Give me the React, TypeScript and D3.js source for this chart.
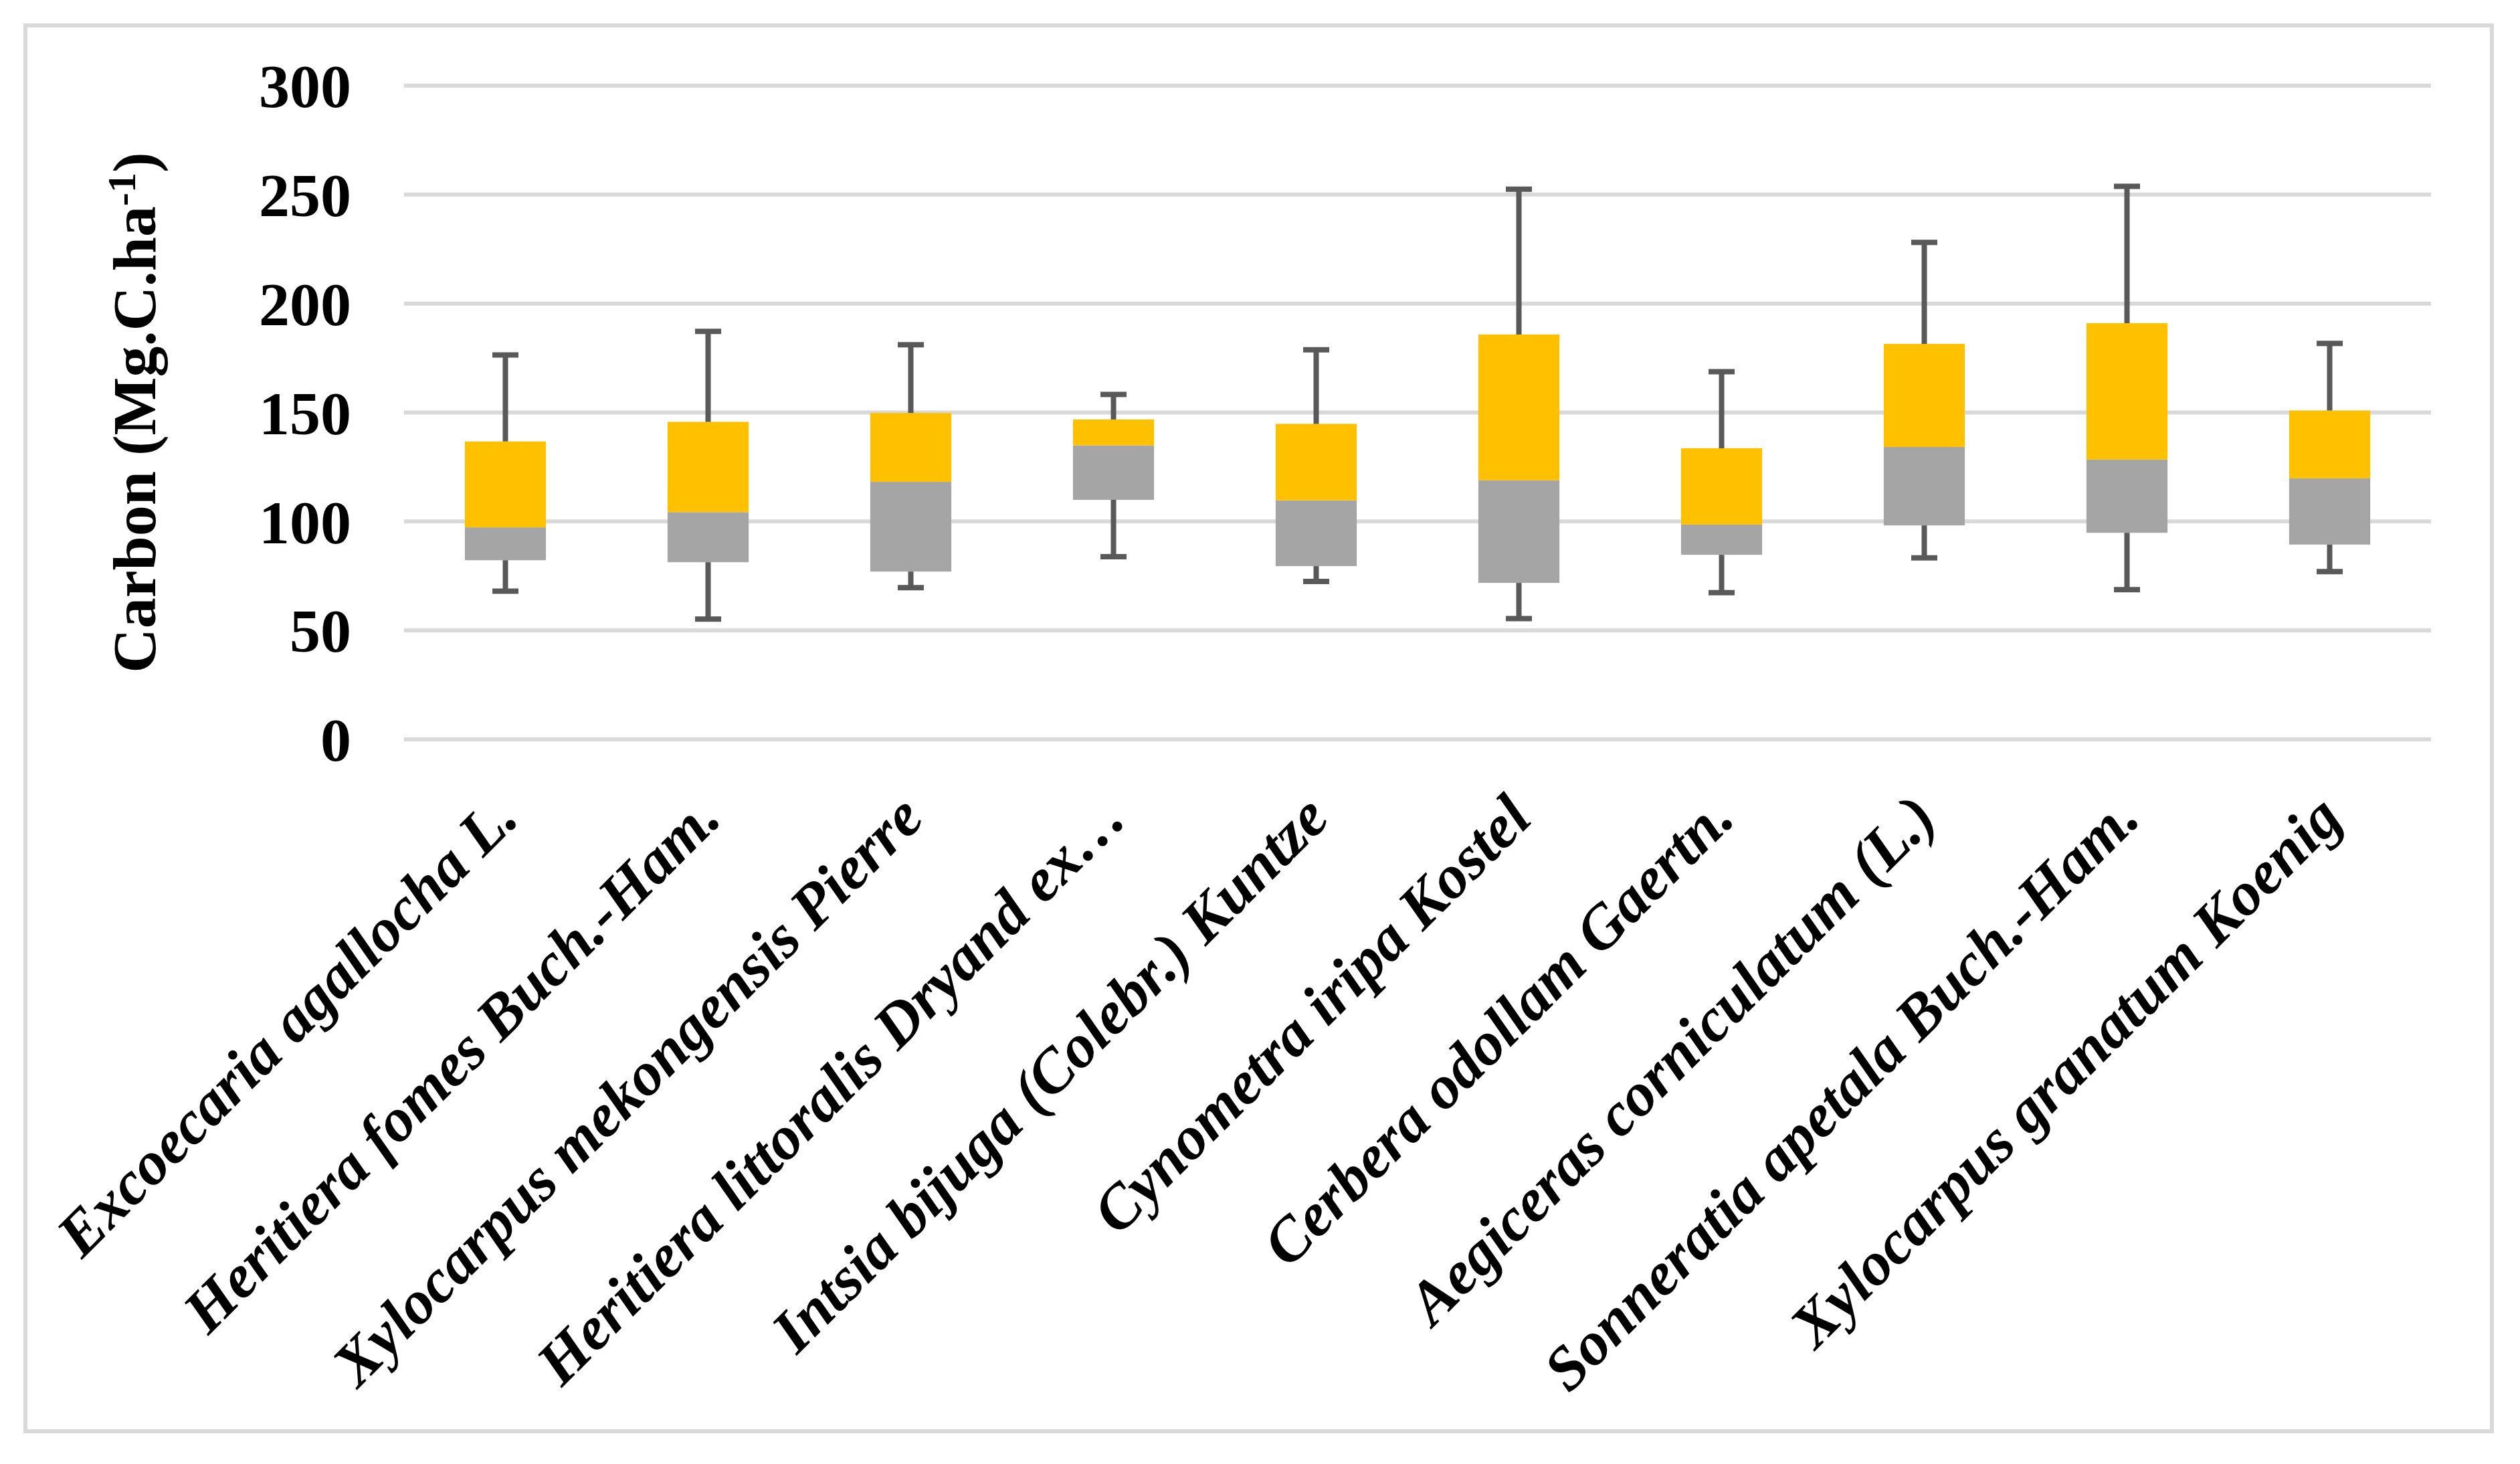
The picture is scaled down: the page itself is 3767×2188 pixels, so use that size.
import React from 'react';
import * as d3 from 'd3';

const species = [
  'Excoecaria agallocha L.',
  'Heritiera fomes Buch.-Ham.',
  'Xylocarpus mekongensis Pierre',
  'Heritiera littoralis Dryand ex…',
  'Intsia bijuga (Colebr.) Kuntze',
  'Cynometra iripa Kostel',
  'Cerbera odollam Gaertn.',
  'Aegiceras corniculatum (L.)',
  'Sonneratia apetala Buch.-Ham.',
  'Xylocarpus granatum Koenig',
];

// box plot drawn as stacked columns: q1 -> median (grey), median -> q3 (yellow)
const minVals = [68.0, 55.2, 69.6, 83.8, 72.5, 55.4, 67.3, 83.3, 68.7, 77.0];
const q1Vals = [82.2, 81.3, 77.0, 109.9, 79.5, 71.8, 84.7, 98.2, 94.8, 89.4];
const medianVals = [97.3, 104.3, 118.2, 134.9, 109.7, 118.9, 98.6, 134.2, 128.4, 119.8];
const q3Vals = [136.7, 145.7, 149.8, 146.8, 144.8, 185.8, 133.6, 181.5, 191.0, 150.9];
const maxVals = [176.4, 187.2, 181.1, 158.3, 178.8, 252.5, 168.7, 228.1, 253.8, 181.7];

const yTicks = [0, 50, 100, 150, 200, 250, 300];

const W = 3767;
const H = 2188;
const plot = { left: 604, right: 3634, top: 128, bottom: 1105 };

const FONT = '"Liberation Serif", "Times New Roman", serif';

const App: React.FC = () => {
  const x = d3.scaleBand<string>()
    .domain(species)
    .range([plot.left, plot.right])
    .paddingInner(0.6)
    .paddingOuter(0.3);

  const y = d3.scaleLinear()
    .domain([0, 300])
    .range([plot.bottom, plot.top]);

  const bw = x.bandwidth();
  const capW = 39;
  const errColor = '#595959';
  const errW = 8;

  return (
    <svg
      width={W}
      height={H}
      style={{ position: 'absolute', left: 0, top: 0, background: '#fff' }}
      fontFamily={FONT}
    >
      <rect x={0} y={0} width={W} height={H} fill="#fff" />
      <rect x={38} y={38} width={3687} height={2101} fill="none" stroke="#d9d9d9" strokeWidth={6} />

      {/* gridlines */}
      {yTicks.map((t) => (
        <line key={t} x1={plot.left} x2={plot.right} y1={y(t)} y2={y(t)} stroke="#d9d9d9" strokeWidth={6} />
      ))}

      {/* y tick labels */}
      {yTicks.map((t) => (
        <text key={'l' + t} x={525} y={y(t)} dy="0.35em" textAnchor="end" fontSize={92} fontWeight="bold" fill="#000">
          {t}
        </text>
      ))}

      {/* y axis title */}
      <text
        transform={`translate(232, ${(plot.top + plot.bottom) / 2}) rotate(-90)`}
        textAnchor="middle"
        fontSize={92}
        fontWeight="bold"
        fill="#000"
      >
        Carbon (Mg.C.ha
        <tspan fontSize={60} dy={-30}>-1</tspan>
        <tspan dy={30}>)</tspan>
      </text>

      {/* boxes */}
      {species.map((s, i) => {
        const x0 = x(s)!;
        const cx = x0 + bw / 2;
        return (
          <g key={s}>
            <rect x={x0} y={y(medianVals[i])} width={bw} height={y(q1Vals[i]) - y(medianVals[i])} fill="#a5a5a5" />
            <rect x={x0} y={y(q3Vals[i])} width={bw} height={y(medianVals[i]) - y(q3Vals[i])} fill="#ffc000" />
            <line x1={cx} x2={cx} y1={y(q3Vals[i])} y2={y(maxVals[i])} stroke={errColor} strokeWidth={errW} />
            <line x1={cx - capW / 2} x2={cx + capW / 2} y1={y(maxVals[i])} y2={y(maxVals[i])} stroke={errColor} strokeWidth={errW} />
            <line x1={cx} x2={cx} y1={y(q1Vals[i])} y2={y(minVals[i])} stroke={errColor} strokeWidth={errW} />
            <line x1={cx - capW / 2} x2={cx + capW / 2} y1={y(minVals[i])} y2={y(minVals[i])} stroke={errColor} strokeWidth={errW} />
          </g>
        );
      })}

      {/* category labels */}
      {species.map((s) => {
        const cx = x(s)! + bw / 2;
        return (
          <text
            key={'c' + s}
            transform={`translate(${cx}, 1204) rotate(-45)`}
            textAnchor="end"
            dy="0.35em"
            fontSize={92}
            fontWeight="bold"
            fontStyle="italic"
            fill="#000"
          >
            {s}
          </text>
        );
      })}
    </svg>
  );
};

export default App;
